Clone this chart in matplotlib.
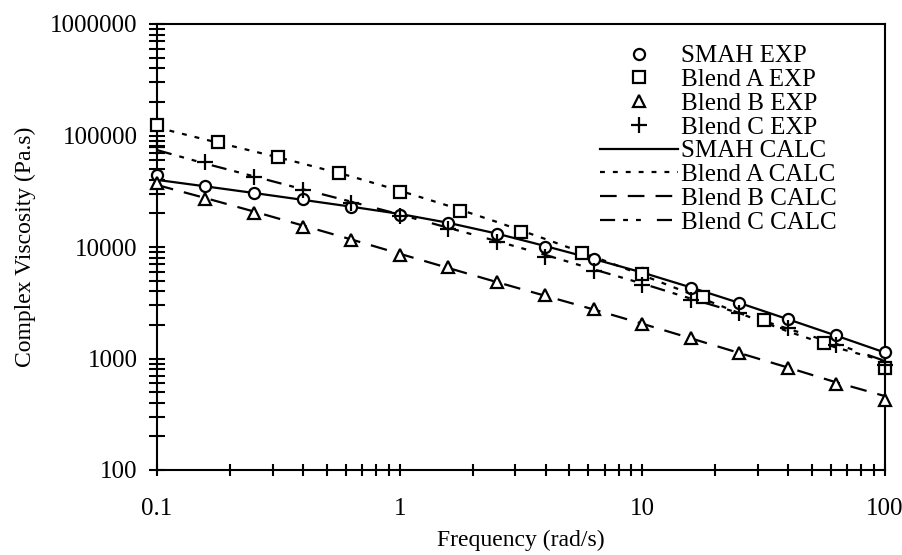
import matplotlib
matplotlib.use("Agg")
import matplotlib.pyplot as plt
from matplotlib.ticker import LogLocator, FixedLocator, FixedFormatter, NullFormatter

# ---------------- data ----------------
freq5 = [0.1, 0.158, 0.251, 0.398, 0.631, 1, 1.58, 2.51, 3.98, 6.31, 10, 15.8, 25.1, 39.8, 63.1, 100]
freq4 = [0.1, 0.178, 0.316, 0.562, 1, 1.78, 3.16, 5.62, 10, 17.8, 31.6, 56.2, 100]

smah_exp = [44200, 35200, 30700, 26800, 23000, 19400, 16300, 13100, 10070, 7740, 5890, 4320, 3170, 2260, 1625, 1150]
blendA_exp = [124000, 88000, 64500, 45800, 31300, 21200, 13700, 8900, 5690, 3540, 2220, 1370, 830]
blendB_exp = [37300, 26800, 20000, 15200, 11560, 8480, 6580, 4890, 3710, 2780, 2040, 1520, 1114, 828, 590, 425]
blendC_exp = [78800, 58200, 42700, 32500, 24700, 19000, 14400, 11160, 8180, 6130, 4600, 3350, 2540, 1866, 1320, 870]

smah_calc = [40000, 35000, 30500, 26500, 23000, 19800, 16500, 13200, 10200, 7800, 5900, 4350, 3150, 2250, 1600, 1130]
blendA_calc = [118000, 92000, 72000, 56000, 43000, 32000, 23500, 16800, 11800, 8200, 5600, 3800, 2550, 1750, 1250, 950]
blendB_calc = [36000, 27500, 20800, 15600, 11700, 8700, 6500, 4850, 3650, 2750, 2050, 1520, 1120, 830, 610, 460]
blendC_calc = [74000, 56000, 43000, 33000, 25500, 19600, 14900, 11300, 8500, 6300, 4700, 3450, 2550, 1850, 1350, 950]

xticks = [0.1, 1, 10, 100]
xticklabels = ["0.1", "1", "10", "100"]
yticks = [100, 1000, 10000, 100000, 1000000]
yticklabels = ["100", "1000", "10000", "100000", "1000000"]

# ---------------- style ----------------
plt.rcParams['font.family'] = ['Liberation Serif', 'DejaVu Serif']
FS_TICK = 18
FS_LAB = 17
FS_LEG = 18

fig = plt.figure(figsize=(9.03, 5.55), dpi=100)
ax = fig.add_axes([157/903, 85/555, (885-157)/903, (470-24)/555])

lw = 1.6
mk = dict(linestyle='none', markerfacecolor='white', markeredgecolor='black',
          markeredgewidth=1.6, markersize=8, clip_on=False, zorder=3)

ax.plot(freq5, smah_calc, color='black', lw=lw, linestyle='-', label='SMAH CALC', zorder=2)
ax.plot(freq5, blendA_calc, color='black', lw=lw, linestyle=(0, (2.2, 3.6)), label='Blend A CALC', zorder=2)
ax.plot(freq5, blendB_calc, color='black', lw=lw, linestyle=(0, (7.5, 5)), label='Blend B CALC', zorder=2)
ax.plot(freq5, blendC_calc, color='black', lw=lw, linestyle=(0, (6.8, 3.6, 2.2, 3.6, 2.2, 7.2)), label='Blend C CALC', zorder=2)

ax.plot(freq5, smah_exp, marker='o', label='SMAH EXP', **mk)
ax.plot(freq4, blendA_exp, marker='s', label='Blend A EXP', **mk)
ax.plot(freq5, blendB_exp, marker='^', label='Blend B EXP', **mk)
ax.plot(freq5, blendC_exp, marker='+', label='Blend C EXP',
        linestyle='none', color='black', markeredgewidth=1.6, markersize=12, clip_on=False, zorder=3)

ax.set_xscale('log')
ax.set_yscale('log')
ax.set_xlim(0.1, 100)
ax.set_ylim(100, 1000000)

ax.xaxis.set_major_locator(FixedLocator(xticks))
ax.xaxis.set_major_formatter(FixedFormatter(xticklabels))
ax.yaxis.set_major_locator(FixedLocator(yticks))
ax.yaxis.set_major_formatter(FixedFormatter(yticklabels))
ax.xaxis.set_minor_locator(LogLocator(base=10, subs=range(2, 10), numticks=20))
ax.yaxis.set_minor_locator(LogLocator(base=10, subs=range(2, 10), numticks=20))
ax.xaxis.set_minor_formatter(NullFormatter())
ax.yaxis.set_minor_formatter(NullFormatter())

ax.tick_params(axis='y', which='both', direction='inout', length=12, width=1.5,
               labelsize=FS_TICK, pad=8, right=False)
ax.tick_params(axis='x', which='both', direction='inout', length=9, width=1.5,
               labelsize=FS_TICK, pad=16, top=False)

for s in ax.spines.values():
    s.set_linewidth(1.5)

ax.set_xlabel('Frequency (rad/s)', fontsize=FS_LAB, labelpad=7)
ax.set_ylabel('Complex Viscosity (Pa.s)', fontsize=FS_LAB, labelpad=10)

handles, labels = ax.get_legend_handles_labels()
order = ['SMAH EXP', 'Blend A EXP', 'Blend B EXP', 'Blend C EXP',
         'SMAH CALC', 'Blend A CALC', 'Blend B CALC', 'Blend C CALC']
hmap = dict(zip(labels, handles))
leg = ax.legend([hmap[l] for l in order], order, loc='upper left',
                bbox_to_anchor=(0.609, 0.953), frameon=False, fontsize=FS_LEG,
                handlelength=3.1, handletextpad=0.12, labelspacing=0.05,
                borderaxespad=0.0, borderpad=0.0)

fig.savefig('out.png', dpi=100)
